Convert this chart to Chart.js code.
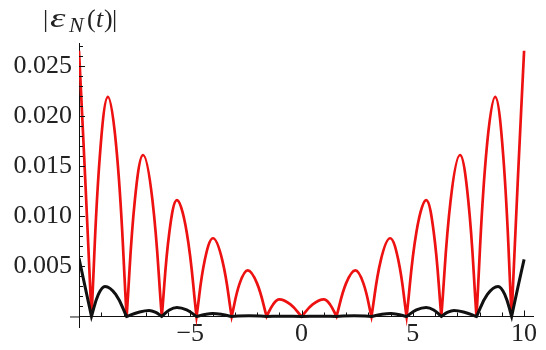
<!DOCTYPE html>
<html>
<head>
<meta charset="utf-8">
<title>|εN(t)|</title>
<script src="https://cdn.jsdelivr.net/npm/chart.js@4.4.1/dist/chart.umd.min.js"></script>
<style>
    html, body { margin: 0; padding: 0; background: #fff; }
    #wrap { width: 546px; height: 350px; position: relative; }
</style>
</head>
<body>
<div id="wrap"><canvas id="errChart"></canvas></div>
<script>
// ================= Data =================
// zeros are listed twice so the curve keeps its sharp notch there
const redT = [-10, -9.72, -9.44, -9.44, -9.07, -8.7, -8.28, -7.86, -7.86, -7.49, -7.12, -6.7, -6.28, -6.28,
    -5.94, -5.6, -5.16, -4.72, -4.72, -4.35, -3.98, -3.56, -3.14, -3.14, -2.78, -2.42, -2.0, -1.57, -1.57,
    -1.28, -1.0, -0.5, 0, 0, 0.5, 1.0, 1.28, 1.57, 1.57, 2.0, 2.42, 2.78, 3.14, 3.14, 3.56, 3.98, 4.35,
    4.72, 4.72, 5.16, 5.6, 5.94, 6.28, 6.28, 6.7, 7.12, 7.49, 7.86, 7.86, 8.28, 8.7, 9.07, 9.44, 9.44, 9.72, 10];
const redErr = [0.0265, 0.0137, 0, 0, 0.0158, 0.0219, 0.0158, 0, 0, 0.0116, 0.0161, 0.0116, 0, 0,
    0.0084, 0.0116, 0.0084, 0, 0, 0.0056, 0.0078, 0.0056, 0, 0, 0.0033, 0.0046, 0.0033, 0, 0,
    0.0012, 0.0017, 0.0012, 0, 0, 0.0012, 0.0017, 0.0012, 0, 0, 0.0033, 0.0046, 0.0033, 0, 0, 0.0056, 0.0078, 0.0056,
    0, 0, 0.0084, 0.0116, 0.0084, 0, 0, 0.0116, 0.0161, 0.0116, 0, 0, 0.0158, 0.0219, 0.0158, 0, 0, 0.0137, 0.0265];

const blackT = [-10, -9.72, -9.44, -9.44, -9.13, -8.83, -8.35, -7.86, -7.86, -7.35, -6.85, -6.55, -6.28, -6.28,
    -5.94, -5.6, -5.16, -4.72, -4.72, -4.35, -4.0, -3.56, -3.14, -3.14, -2.36, -1.57, -1.57, -0.78, 0,
    0.78, 1.57, 1.57, 2.36, 3.14, 3.14, 3.56, 4.0, 4.35, 4.72, 4.72, 5.16, 5.6, 5.94, 6.28, 6.28,
    6.55, 6.85, 7.35, 7.86, 7.86, 8.35, 8.83, 9.13, 9.44, 9.44, 9.72, 10];
const blackErr = [0.0058, 0.0029, 0, 0, 0.0022, 0.0030, 0.0022, 0, 0, 0.0004, 0.0006, 0.0004, 0, 0,
    0.00065, 0.0009, 0.00065, 0, 0, 0.0002, 0.0003, 0.0002, 0, 0, 0.00008, 0, 0, 0.00003, 0,
    0.00003, 0, 0, 0.00008, 0, 0, 0.0002, 0.0003, 0.0002, 0, 0, 0.00065, 0.0009, 0.00065, 0, 0,
    0.0004, 0.0006, 0.0004, 0, 0, 0.0022, 0.0030, 0.0022, 0, 0, 0.0029, 0.0057];

const xTicks = [-5, 0, 5, 10];
const yTicks = [0.005, 0.010, 0.015, 0.020, 0.025];
const xMinorTicks = [-9, -8, -7, -6, -4, -3, -2, -1, 1, 2, 3, 4, 6, 7, 8, 9];
const yMinorTicks = [0.001, 0.002, 0.003, 0.004, 0.006, 0.007, 0.008, 0.009, 0.011, 0.012, 0.013, 0.014,
    0.016, 0.017, 0.018, 0.019, 0.021, 0.022, 0.023, 0.024, 0.026, 0.027];

// ================= Helpers =================
function toPoints(ts, vals) {
    return ts.map((t, i) => ({ x: t, y: vals[i] }));
}

function fmtX(v) {
    return v < 0 ? "\u2212" + Math.abs(v) : String(v);
}

const serif = '"Liberation Serif", "Times New Roman", serif';

// ================= Plugins =================
// Mathematica-style inward tick marks + small axis stub left of the y axis
const tickMarks = {
    id: "tickMarks",
    afterDraw(chart) {
        const ctx = chart.ctx;
        const xs = chart.scales.x;
        const ys = chart.scales.y;
        const x0 = xs.getPixelForValue(-10);
        const y0 = ys.getPixelForValue(0);
        ctx.save();
        ctx.strokeStyle = "#111";
        ctx.lineWidth = 1;
        ctx.beginPath();
        ctx.moveTo(x0 - 9, y0 + 0.5);
        ctx.lineTo(x0, y0 + 0.5);
        xTicks.forEach(v => {
            const px = Math.round(xs.getPixelForValue(v)) + 0.5;
            ctx.moveTo(px, y0);
            ctx.lineTo(px, y0 - 6);
        });
        xMinorTicks.forEach(v => {
            const px = Math.round(xs.getPixelForValue(v)) + 0.5;
            ctx.moveTo(px, y0);
            ctx.lineTo(px, y0 - 4);
        });
        yTicks.forEach(v => {
            const py = Math.round(ys.getPixelForValue(v)) + 0.5;
            ctx.moveTo(x0, py);
            ctx.lineTo(x0 + 6, py);
        });
        yMinorTicks.forEach(v => {
            const py = Math.round(ys.getPixelForValue(v)) + 0.5;
            ctx.moveTo(x0, py);
            ctx.lineTo(x0 + 4, py);
        });
        ctx.stroke();
        ctx.restore();
    }
};

// axis label |ε_N(t)| drawn piece by piece (italics + subscript)
const axisLabel = {
    id: "axisLabel",
    afterDraw(chart) {
        const ctx = chart.ctx;
        const base = 27;
        // text, x, y, font, horizontal stretch
        const pieces = [
            ["|", 43, base, "26px " + serif, 1],
            ["\u03b5", 50, base, "italic 28px " + serif, 1.4],
            ["N", 69, base + 5, "italic 22px " + serif, 1],
            ["(", 87, base, "26px " + serif, 1],
            ["t", 96, base, "italic 26px " + serif, 1],
            [")", 104, base, "26px " + serif, 1],
            ["|", 112, base, "26px " + serif, 1]
        ];
        ctx.save();
        ctx.fillStyle = "#222";
        ctx.textBaseline = "alphabetic";
        ctx.textAlign = "left";
        pieces.forEach(p => {
            ctx.save();
            ctx.font = p[3];
            ctx.translate(p[1], p[2]);
            ctx.scale(p[4], 1);
            ctx.fillText(p[0], 0, 0);
            ctx.restore();
        });
        ctx.restore();
    }
};

// ================= Chart =================
const ctx = document.getElementById("errChart").getContext("2d");
new Chart(ctx, {
    type: "line",
    data: {
        datasets: [
            {
                data: toPoints(blackT, blackErr),
                borderColor: "#111111",
                borderWidth: 3,
                pointRadius: 0,
                tension: 0.4,
                fill: false,
                order: 0
            },
            {
                data: toPoints(redT, redErr),
                borderColor: "#ee1111",
                borderWidth: 2.7,
                pointRadius: 0,
                tension: 0.4,
                fill: false,
                order: 1
            }
        ]
    },
    options: {
        responsive: true,
        maintainAspectRatio: false,
        animation: false,
        layout: { padding: { left: 0, right: 13, top: 43, bottom: 20 } },
        plugins: {
            legend: { display: false },
            tooltip: { enabled: false },
            title: { display: false }
        },
        scales: {
            x: {
                type: "linear",
                min: -10,
                max: 10.4,
                position: { y: 0 },
                grid: { display: true, drawOnChartArea: false, drawTicks: false },
                border: { display: true, color: "#111", width: 1 },
                afterBuildTicks: s => { s.ticks = xTicks.map(v => ({ value: v })); },
                ticks: {
                    padding: 2,
                    maxRotation: 0,
                    color: "#222",
                    font: { family: serif, size: 26 },
                    callback: v => fmtX(v)
                }
            },
            y: {
                type: "linear",
                min: -0.00109,
                max: 0.02727,
                position: "left",
                afterFit: s => { s.width = 79; },
                grid: { display: true, drawOnChartArea: false, drawTicks: false },
                border: { display: true, color: "#111", width: 1 },
                afterBuildTicks: s => { s.ticks = yTicks.map(v => ({ value: v })); },
                ticks: {
                    padding: 7,
                    color: "#222",
                    font: { family: serif, size: 26 },
                    callback: v => v.toFixed(3)
                }
            }
        }
    },
    plugins: [tickMarks, axisLabel]
});
</script>
</body>
</html>
